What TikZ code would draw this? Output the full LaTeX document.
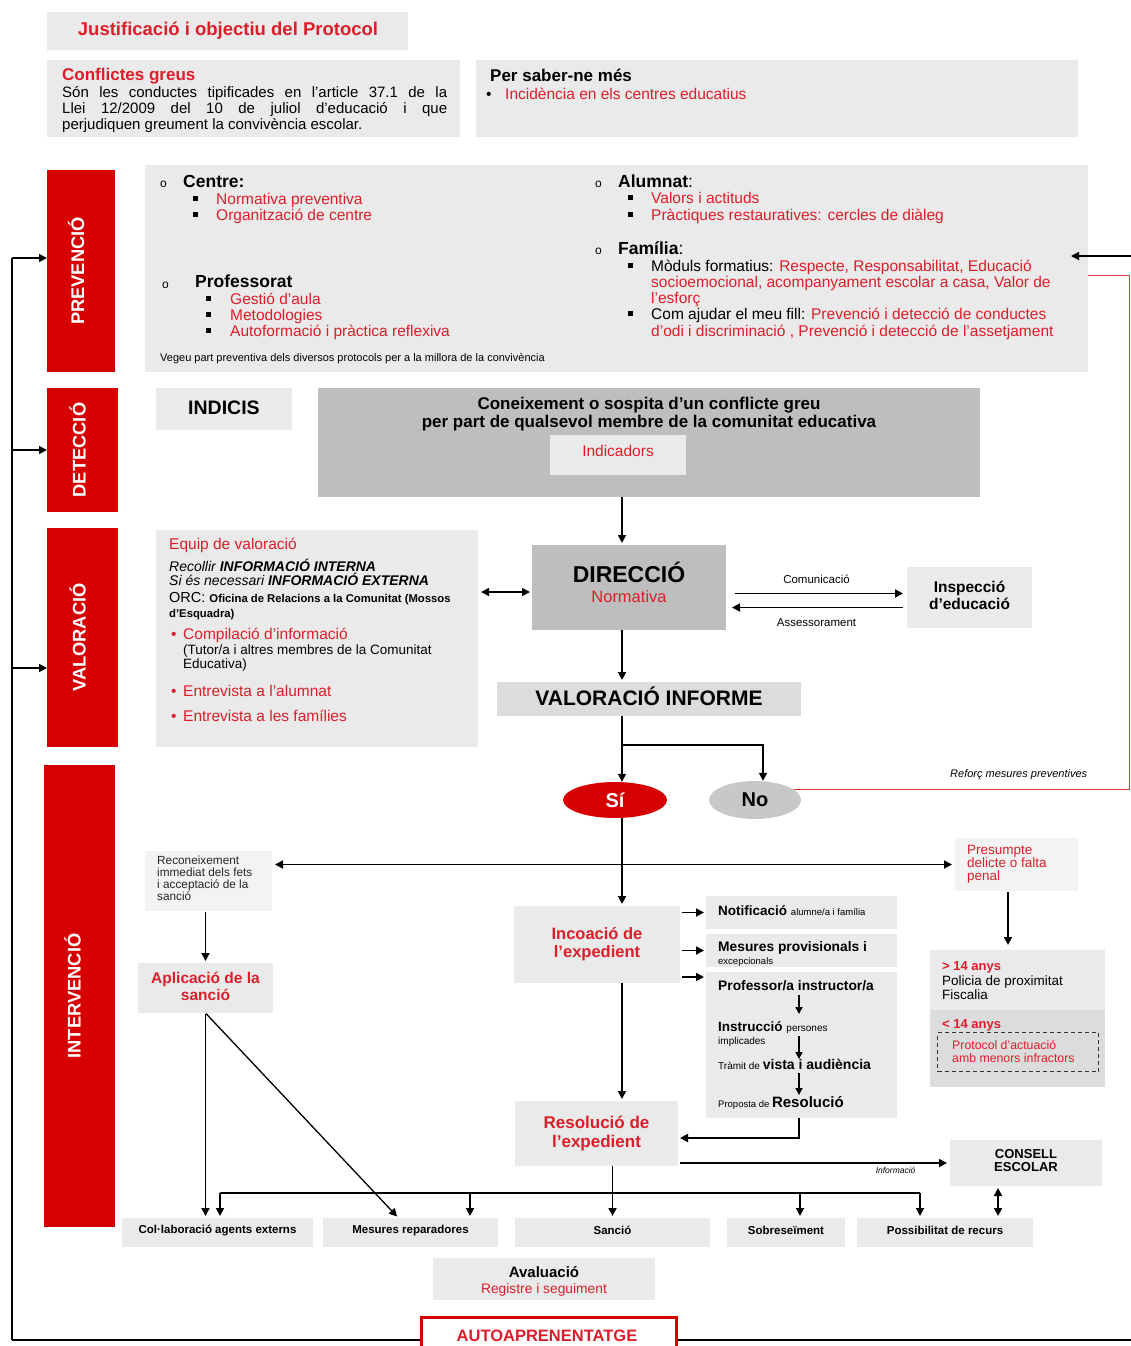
\documentclass[tikz,border=0pt]{standalone}
\usepackage{fontspec}
\setmainfont{Liberation Sans}
\usetikzlibrary{arrows.meta,shapes.geometric}
\definecolor{lg}{HTML}{EAEAEA}
\definecolor{vlg}{HTML}{F3F3F3}
\definecolor{dg}{HTML}{BEBEBE}
\definecolor{lgb}{HTML}{DCDCDC}
\definecolor{rband}{HTML}{D70000}
\definecolor{rt}{HTML}{DC1E2A}
\definecolor{nog}{HTML}{C8C8C8}
\newcommand\fsz[2]{\fontsize{#1pt}{#2pt}\selectfont}
\newcommand\sqb{\raisebox{0.22em}{\rule{0.3em}{0.3em}}}
\newcommand\mybox[6]{\node[#6,anchor=north west,minimum width={(#4-#2)*1pt},minimum height={(#5-#3)*1pt}] (#1) at (#2,#3) {};}
\newcommand\mytx[5]{\node[anchor=mid west,inner sep=0pt,yshift=-3.5pt,#4] (#1) at (#2,#3) {#5};}
\newcommand\mytc[5]{\node[anchor=mid,inner sep=0pt,yshift=-3.5pt,#4] (#1) at (#2,#3) {#5};}
\begin{document}
\begin{tikzpicture}[x=1pt,y=-1pt,
  gbox/.style={fill=lg,draw=none,inner sep=0pt,outer sep=0pt},
  vbox/.style={fill=vlg,draw=none,inner sep=0pt,outer sep=0pt},
  dbox/.style={fill=dg,draw=none,inner sep=0pt,outer sep=0pt},
  bbox/.style={fill=lgb,draw=none,inner sep=0pt,outer sep=0pt},
  band/.style={fill=rband,draw=none,inner sep=0pt,outer sep=0pt},
  dashbox/.style={draw=black!80,dashed,line width=1.4pt,dash pattern=on 4pt off 3pt,inner sep=0pt},
  arr/.style={-{Triangle[length=8pt,width=8pt]},line width=1.7pt},
  sarr/.style={-{Triangle[length=7pt,width=7pt]},line width=1.5pt},
  darr/.style={{Triangle[length=8pt,width=8pt]}-{Triangle[length=8pt,width=8pt]},line width=1.7pt},
  lnk/.style={line width=1.7pt},
  redl/.style={draw=rband!80,line width=1pt},
  hd/.style={font=\fsz{17.5}{20}\bfseries},
  it/.style={font=\fsz{15.5}{18},text=rt},
  bl/.style={font=\fsz{15.5}{18}},
  ci/.style={font=\fsz{12}{12}},
  up/.style={yshift=2pt}]
\useasboundingbox (0,0) rectangle (1131,1346);
\fill[white] (0,0) rectangle (1131,1346);
% ---------- top ----------
\mybox{just}{47}{12}{408}{50}{gbox}
\mytc{justt}{228}{29}{font=\fsz{18.5}{20}\bfseries,text=rt}{Justificació i objectiu del Protocol}
\mybox{confl}{47}{60}{460}{137}{gbox}
\mytx{conflt}{62}{74}{font=\fsz{17}{20}\bfseries,text=rt}{Conflictes greus}
\mytx{cb1}{62}{91}{font=\fsz{15}{16}}{\makebox[385pt][s]{Són les conductes tipificades en l'article 37.1 de la}}
\mytx{cb2}{62}{107}{font=\fsz{15}{16}}{\makebox[385pt][s]{Llei 12/2009 del 10 de juliol d'educació i que}}
\mytx{cb3}{62}{123}{font=\fsz{15}{16}}{perjudiquen greument la convivència escolar.}
\mybox{saber}{476}{60}{1078}{137}{gbox}
\mytx{sabert}{490}{75}{font=\fsz{17}{20}\bfseries}{Per saber-ne més}
\mytx{saberb}{486}{93}{font=\fsz{15.5}{18}}{\makebox[19pt][l]{•}\textcolor{rt}{Incidència en els centres educatius}}
% ---------- bands ----------
\mybox{prev}{47}{170}{115}{372}{band}
\mybox{det}{47}{388}{118}{512}{band}
\mybox{val}{47}{528}{118}{747}{band}
\mybox{inter}{44}{765}{115}{1227}{band}
\node[rotate=90,font=\fsz{18.3}{20}\bfseries,text=white] (prevt) at ([xshift=-5pt]prev.center) {PREVENCIÓ};
\node[rotate=90,font=\fsz{18.3}{20}\bfseries,text=white] (dett) at ([xshift=-5pt]det.center) {DETECCIÓ};
\node[rotate=90,font=\fsz{18.3}{20}\bfseries,text=white] (valt) at ([xshift=-5pt]val.center) {VALORACIÓ};
\node[rotate=90,font=\fsz{18.3}{20}\bfseries,text=white] (intt) at ([xshift=-7pt]inter.center) {INTERVENCIÓ};
% ---------- prevencio ----------
\mybox{prevbox}{145}{165}{1088}{372}{gbox}
\mytx{c1}{160}{181}{ci}{o}
\mytx{c1t}{183}{181}{hd}{Centre:}
\mytx{c1a}{193}{198}{it}{\makebox[23pt][l]{\textcolor{black}{\sqb}}Normativa preventiva}
\mytx{c1b}{193}{214}{it}{\makebox[23pt][l]{\textcolor{black}{\sqb}}Organització de centre}
\mytx{c2}{162}{282}{ci}{o}
\mytx{c2t}{195}{281}{hd}{Professorat}
\mytx{c2a}{206}{298}{it}{\makebox[24pt][l]{\textcolor{black}{\sqb}}Gestió d'aula}
\mytx{c2b}{206}{314}{it}{\makebox[24pt][l]{\textcolor{black}{\sqb}}Metodologies}
\mytx{c2c}{206}{330}{it}{\makebox[24pt][l]{\textcolor{black}{\sqb}}Autoformació i pràctica reflexiva}
\mytx{veg}{160}{355}{font=\fsz{11}{12}}{Vegeu part preventiva dels diversos protocols per a la millora de la convivència}
\mytx{c3}{595}{181}{ci}{o}
\mytx{c3t}{618}{181}{hd}{Alumnat\mdseries:}
\mytx{c3a}{628}{197}{it}{\makebox[23pt][l]{\textcolor{black}{\sqb}}Valors i actituds}
\mytx{c3b}{628}{214}{it}{\makebox[23pt][l]{\textcolor{black}{\sqb}}Pràctiques restauratives: cercles de diàleg}
\mytx{c4}{595}{248}{ci}{o}
\mytx{c4t}{618}{248}{hd}{Família\mdseries:}
\mytx{c4a}{628}{265}{bl}{\makebox[23pt][l]{\sqb}Mòduls formatius: \textcolor{rt}{Respecte, Responsabilitat, Educació}}
\mytx{c4b}{651}{281}{it}{socioemocional, acompanyament escolar a casa, Valor de}
\mytx{c4c}{651}{297}{it}{l'esforç}
\mytx{c4d}{628}{313}{bl}{\makebox[23pt][l]{\sqb}Com ajudar el meu fill: \textcolor{rt}{Prevenció i detecció de conductes}}
\mytx{c4e}{651}{330}{it}{d'odi i discriminació , Prevenció i detecció de l'assetjament}
% ---------- deteccio ----------
\mybox{indicis}{156}{388}{292}{430}{gbox}
\mytc{indt}{224}{408}{font=\fsz{19.5}{22}\bfseries}{INDICIS}
\mybox{coneix}{318}{388}{980}{497}{dbox}
\mytc{con1}{649}{403}{font=\fsz{17}{20}\bfseries}{Coneixement o sospita d'un conflicte greu}
\mytc{con2}{649}{421}{font=\fsz{17}{20}\bfseries}{per part de qualsevol membre de la comunitat educativa}
\mybox{indic}{550}{435}{686}{475}{gbox}
\mytc{indict}{618}{450}{font=\fsz{15.5}{18},text=rt}{Indicadors}
% ---------- valoracio ----------
\mybox{valbox}{156}{530}{478}{747}{gbox}
\mytx{eq}{169}{543}{font=\fsz{15.5}{18},text=rt}{Equip de valoració}
\mytx{rec}{169}{565}{font=\fsz{14}{15}\itshape}{Recollir \textbf{INFORMACIÓ INTERNA}}
\mytx{sies}{169}{579}{font=\fsz{14}{15}\itshape}{Si és necessari \textbf{INFORMACIÓ EXTERNA}}
\mytx{orc}{169}{596}{font=\fsz{14.5}{16}}{ORC: {\fsz{11.3}{12}\bfseries Oficina de Relacions a la Comunitat (Mossos}}
\mytx{orc2}{169}{611}{font=\fsz{11.3}{12}\bfseries}{d'Esquadra)}
\mytx{comp}{171}{633}{font=\fsz{15.5}{18},text=rt}{\makebox[12pt][l]{•}Compilació d'informació}
\mytx{tut}{183}{648}{font=\fsz{13.5}{15}}{(Tutor/a i altres membres de la Comunitat}
\mytx{tut2}{183}{662}{font=\fsz{13.5}{15}}{Educativa)}
\mytx{ent1}{171}{690}{font=\fsz{15.5}{18},text=rt}{\makebox[12pt][l]{•}Entrevista a l'alumnat}
\mytx{ent2}{171}{715}{font=\fsz{15.5}{18},text=rt}{\makebox[12pt][l]{•}Entrevista a les famílies}
\mybox{dir}{532}{545}{726}{630}{dbox}
\mytc{dirt}{629}{576}{font=\fsz{23}{26}\bfseries}{DIRECCIÓ}
\mytc{dirn}{629}{596}{font=\fsz{16.5}{18},text=rt}{Normativa}
\mybox{insp}{907}{567}{1032}{628}{gbox}
\node[font=\fsz{15.5}{17}\bfseries,align=center,inner sep=0pt] (inspt) at ([yshift=2pt]insp.center) {Inspecció\\d'educació};
\mybox{vi}{497}{682}{801}{716}{bbox}
\mytc{vit}{649}{699}{font=\fsz{21}{24}\bfseries}{VALORACIÓ INFORME}
\node[ellipse,fill=rband,minimum width=104pt,minimum height=36pt,inner sep=0pt,text=white,font=\fsz{20}{22}\bfseries] (si) at (615,800) {Sí};
\node[ellipse,fill=nog,minimum width=92pt,minimum height=38pt,inner sep=0pt,font=\fsz{20}{22}\bfseries] (no) at (755,800) {No};
\mytx{reforc}{950}{771}{font=\fsz{11}{12}\itshape}{Reforç mesures preventives}
% ---------- intervencio ----------
\mybox{reco}{145}{851}{272}{911}{vbox}
\node[anchor=north west,font=\fsz{11.8}{12},align=left,inner sep=0pt,text=black!85] (recot) at (157,856) {Reconeixement\\immediat dels fets\\i acceptació de la\\sanció};
\mybox{pres}{955}{838}{1078}{891}{vbox}
\node[anchor=north west,font=\fsz{13.5}{13},text=rt,align=left,inner sep=0pt] (prest) at (967,845) {Presumpte\\delicte o falta\\penal};
\mybox{apl}{138}{963}{273}{1013}{gbox}
\node[font=\fsz{15.5}{17}\bfseries,text=rt,align=center,inner sep=0pt] (aplt) at ([yshift=2pt]apl.center) {Aplicació de la\\sanció};
\mybox{rbox}{930}{950}{1105}{1087}{gbox}
\mybox{rbox2}{930}{1010}{1105}{1087}{bbox}
\mytx{r14a}{942}{964}{font=\fsz{13}{14}\bfseries,text=rt}{> 14 anys}
\mytx{r14b}{942}{979}{font=\fsz{13.5}{14}}{Policia de proximitat}
\mytx{r14c}{942}{993}{font=\fsz{13.5}{14}}{Fiscalia}
\mytx{r14d}{942}{1022}{font=\fsz{13}{14}\bfseries,text=rt}{< 14 anys}
\mybox{dash}{937}{1032}{1098}{1071}{dashbox}
\node[font=\fsz{12.3}{13},text=rt,align=left,anchor=north west,inner sep=0pt] (dasht) at (952,1040) {Protocol d'actuació\\amb menors infractors};
\mybox{inc}{514}{906}{680}{983}{gbox}
\node[font=\fsz{16.5}{18}\bfseries,text=rt,align=center,inner sep=0pt] (inct) at (inc.center) {Incoació de\\l'expedient};
\mybox{not}{706}{896}{897}{929}{gbox}
\mytx{nott}{718}{911}{font=\fsz{13.5}{16}\bfseries,up}{Notificació {\fsz{9.5}{10}\mdseries alumne/a i família}}
\mybox{mesp}{706}{934}{897}{967}{gbox}
\mytx{mesp1}{718}{947}{font=\fsz{13.8}{15}\bfseries,up}{Mesures provisionals i}
\mytx{mesp2}{718}{960}{font=\fsz{9.5}{10},up}{excepcionals}
\mybox{prof}{706}{972}{897}{1118}{gbox}
\mytx{prof1}{718}{986}{font=\fsz{13.8}{15}\bfseries,up}{Professor/a instructor/a}
\mytx{prof2}{718}{1027}{font=\fsz{13.5}{15}\bfseries,up}{Instrucció {\fsz{10}{10}\mdseries persones}}
\mytx{prof3}{718}{1040}{font=\fsz{10}{10},up}{implicades}
\mytx{prof4}{718}{1065}{font=\fsz{10}{10},up}{Tràmit de {\fsz{14}{15}\bfseries vista i audiència}}
\mytx{prof5}{718}{1103}{font=\fsz{9.5}{10},up}{Proposta de {\fsz{15}{15}\bfseries Resolució}}
\mybox{res}{515}{1101}{678}{1166}{gbox}
\node[font=\fsz{17}{19}\bfseries,text=rt,align=center,inner sep=0pt] (rest) at (res.center) {Resolució de\\l'expedient};
\mybox{cons}{950}{1140}{1102}{1186}{gbox}
\node[font=\fsz{13}{13}\bfseries,align=center,inner sep=0pt] (const) at ([yshift=2pt]cons.center) {CONSELL\\ESCOLAR};
\mybox{col}{122}{1218}{313}{1247}{gbox}
\mybox{mesr}{323}{1218}{498}{1247}{gbox}
\mybox{sanc}{515}{1218}{710}{1247}{gbox}
\mybox{sobr}{727}{1218}{845}{1247}{gbox}
\mybox{poss}{857}{1218}{1033}{1247}{gbox}
\node[font=\fsz{11.5}{12}\bfseries,inner sep=0pt] (colt) at ([yshift=2pt]col.center) {Col·laboració agents externs};
\node[font=\fsz{11.5}{12}\bfseries,inner sep=0pt] (mesrt) at ([yshift=2pt]mesr.center) {Mesures reparadores};
\node[font=\fsz{11.5}{12}\bfseries,inner sep=0pt] (sanct) at ([yshift=2pt]sanc.center) {Sanció};
\node[font=\fsz{11.5}{12}\bfseries,inner sep=0pt] (sobrt) at ([yshift=2pt]sobr.center) {Sobreseïment};
\node[font=\fsz{11.5}{12}\bfseries,inner sep=0pt] (posst) at ([yshift=2pt]poss.center) {Possibilitat de recurs};
\mybox{aval}{433}{1258}{655}{1300}{gbox}
\mytc{avalt}{544}{1271}{font=\fsz{15}{17}\bfseries}{Avaluació}
\mytc{avalr}{544}{1287}{font=\fsz{13.8}{15},text=rt}{Registre i seguiment}
% ---------- coordinates ----------
\coordinate (sp) at (622,0);
\coordinate (ax) at (799,0);
\coordinate (lct) at (12,258);
\coordinate (lb) at (12,1340);
\coordinate (rb) at (1131,1340);
\coordinate (va) at (47,668);
\coordinate (rin) at (1131,256);
\coordinate (rinE) at (1071,256);
\coordinate (rA) at (1129,790);
\coordinate (rB) at (1129,275);
\coordinate (spl) at (622,745);
\coordinate (pf) at (1008,0);
\coordinate (bL) at (220,1193);
\coordinate (b2) at (470,1193);
\coordinate (b3) at (800,1193);
\coordinate (bR) at (920,1193);
\coordinate (dv) at ([yshift=-4.5pt]dir.west);
\coordinate (cm) at ([yshift=-6pt]dir.east);
\coordinate (as) at ([yshift=-20pt]dir.east);
\coordinate (pa) at ([yshift=-5pt]prof.north west);
\coordinate (pr) at ([yshift=-4.5pt]res.east);
\coordinate (a1s) at (799,995);  \coordinate (a1e) at (799,1014);
\coordinate (a2s) at (799,1036); \coordinate (a2e) at (799,1059);
\coordinate (a3s) at (799,1073); \coordinate (a3e) at (799,1095);
% ---------- AUTOAPRENENTATGE ----------
\draw[lnk] (lb) -- (lct);
\draw[arr] (lct) -- (lct -| prev.west);
\draw[arr] (lct |- det.west) -- (det.west);
\draw[arr] (lct |- va) -- (va);
\node[draw=rband,line width=3pt,fill=white,anchor=north west,minimum width=255pt,minimum height=40pt,inner sep=0pt] (auto) at (420,1316) {};
\mytc{autot}{547}{1335}{font=\fsz{16.5}{18}\bfseries,text=rt}{AUTOAPRENENTATGE}
\draw[lnk] (auto.west |- lb) -- (lb);
\draw[lnk] (auto.east |- rb) -- (rb);
% ---------- connectors ----------
\draw[arr,line width=1.3pt] (rin) -- (rinE);
\draw[redl] (no.15) -- (no.15 -| rA) -- (rB) -- (rB -| prevbox.east);
\draw[arr,shorten >=2pt] (coneix.south -| sp) -- (dir.north -| sp);
\draw[darr,shorten <=3pt,shorten >=2pt] (valbox.east |- dv) -- (dv);
\draw[arr,shorten <=9pt,shorten >=4pt] (cm) -- (cm -| insp.west) node[midway,yshift=14pt,font=\fsz{11.5}{12}] {Comunicació};
\draw[arr,shorten <=4pt,shorten >=6pt] (as -| insp.west) -- (as) node[midway,yshift=-15pt,font=\fsz{11.5}{12}] {Assessorament};
\draw[arr,shorten >=2pt] (dir.south -| sp) -- (vi.north -| sp);
\draw[lnk] (vi.south -| sp) -- (spl);
\draw[arr] (spl) -- (si.north -| sp);
\draw[arr] (spl) -| ([xshift=8pt]no.north);
\draw[arr,shorten >=2pt] (si.south -| sp) -- (inc.north -| sp);
\draw[darr,shorten <=3pt,shorten >=3pt] (reco.east |- pres.west) -- (pres.west);
\draw[arr,shorten <=1pt,shorten >=2pt] (reco.south -| apl.north) -- (apl.north);
\draw[arr,shorten <=1pt,shorten >=5pt] (pres.south -| pf) -- (rbox.north -| pf);
\draw[arr,shorten <=2pt,shorten >=2pt] (inc.east |- not.west) -- (not.west);
\draw[arr,shorten <=2pt,shorten >=2pt] (inc.east |- mesp.west) -- (mesp.west);
\draw[arr,shorten <=2pt,shorten >=2pt] (inc.east |- pa) -- (pa);
\draw[sarr] (a1s) -- (a1e);
\draw[sarr] (a2s) -- (a2e);
\draw[sarr] (a3s) -- (a3e);
\draw[arr,shorten >=2pt] (inc.south -| sp) -- (res.north -| sp);
\draw[arr,shorten >=2pt] (prof.south -| ax) |- (pr);
\draw[arr,shorten <=2pt,shorten >=3pt] (res.east |- cons.west) -- (cons.west) node[pos=0.8,yshift=-7pt,font=\fsz{8.5}{9}\itshape] {Informació};
\draw[darr,shorten <=2pt,shorten >=2pt] ([xshift=-28pt]cons.south) -- ([xshift=-28pt]cons.south |- poss.north);
\draw[lnk] (bL) -- (bR);
\draw[arr,shorten >=2pt] (bL) -- (bL |- col.north);
\draw[arr,shorten >=2pt] (b2) -- (b2 |- mesr.north);
\draw[arr,shorten >=2pt] (b3) -- (b3 |- sobr.north);
\draw[arr,shorten >=2pt] (bR) -- (bR |- poss.north);
\draw[arr,shorten >=2pt] (sanc.north |- res.south) -- (sanc.north);
\draw[arr,shorten <=1pt,shorten >=2pt] (apl.south) -- (apl.south |- col.north);
\draw[arr,line width=1.3pt,shorten <=1pt,shorten >=2pt] (apl.south) -- ([xshift=-12pt]mesr.north);
\end{tikzpicture}
\end{document}
